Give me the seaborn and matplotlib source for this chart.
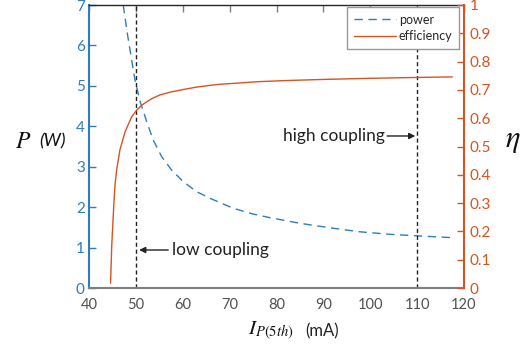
"""
Power / efficiency vs. pump current (dual axis)
"""
import matplotlib
matplotlib.use("Agg")
import matplotlib.pyplot as plt
from matplotlib.lines import Line2D
import seaborn as sns

# --- data ---
I_POWER = [47.3, 48.2, 49.1, 49.8, 50.9, 52.3, 53.7, 55.5, 57.6, 60.1, 63.0,
           65.8, 70.8, 75.0, 78.6, 85.0, 92.0, 97.8, 104.0, 110.0, 117.7]
POWER = [7.0, 6.28, 5.64, 5.15, 4.61, 4.12, 3.66, 3.25, 2.92, 2.63, 2.38,
         2.22, 1.97, 1.83, 1.74, 1.6, 1.48, 1.39, 1.33, 1.29, 1.245]

I_EFF = [44.6, 44.84, 45.05, 45.2, 45.35, 45.55, 45.9, 46.6, 47.7, 49.1, 50.2,
         51.2, 52.3, 53.5, 55.1, 57.3, 60.0, 63.0, 65.8, 68.0, 70.8, 76.0, 82.0,
         90.0, 100.0, 110.0, 117.5]
EFF = [0.017, 0.146, 0.215, 0.264, 0.31, 0.365, 0.417, 0.488, 0.552, 0.605, 0.629,
       0.645, 0.658, 0.670, 0.682, 0.692, 0.701, 0.710, 0.716, 0.720, 0.723, 0.729,
       0.733, 0.737, 0.741, 0.744, 0.746]

X_TICKS = [40, 50, 60, 70, 80, 90, 100, 110, 120]
P_TICKS = [0, 1, 2, 3, 4, 5, 6, 7]
ETA_TICKS = [0, 0.1, 0.2, 0.3, 0.4, 0.5, 0.6, 0.7, 0.8, 0.9, 1.0]
ETA_LABELS = ["0", "0.1", "0.2", "0.3", "0.4", "0.5", "0.6", "0.7", "0.8", "0.9", "1"]
COUPLING = [50, 110]

BLUE = "#2f7cc0"
ORANGE = "#d9531e"
GRAY = "#7f7f7f"

sns.set_style("white")
plt.rcParams["font.family"] = ["Lato", "DejaVu Sans"]
plt.rcParams["mathtext.fontset"] = "stix"

fig = plt.figure(figsize=(5.32, 3.54), dpi=100)
ax = fig.add_axes([89 / 532, 66 / 354, 375 / 532, 283 / 354])
ax2 = ax.twinx()

# --- lines ---
sns.lineplot(x=I_POWER, y=POWER, ax=ax, color=BLUE, linewidth=1.0,
             linestyle=(0, (6, 4)), sort=False, label=None)
sns.lineplot(x=I_EFF, y=EFF, ax=ax2, color=ORANGE, linewidth=1.0,
             sort=False, label=None)
for xv in COUPLING:
    ax.axvline(xv, color="#222222", linewidth=1.0, linestyle=(0, (3, 2)))

ax.set_xlim(40, 120)
ax.set_ylim(0, 7)
ax2.set_ylim(0, 1)

# --- ticks ---
ax.set_xticks(X_TICKS)
ax.set_xticklabels([str(v) for v in X_TICKS], fontsize=10.5, color="#505050")
ax.set_yticks(P_TICKS)
ax.set_yticklabels([str(v) for v in P_TICKS], fontsize=11, color=BLUE)
ax2.set_yticks(ETA_TICKS)
ax2.set_yticklabels(ETA_LABELS, fontsize=11, color=ORANGE)

ax.tick_params(axis="x", direction="in", length=5, width=1, color=GRAY, pad=7, top=True)
ax.tick_params(axis="y", direction="in", length=5, width=1, color=BLUE, pad=3)
ax2.tick_params(axis="y", direction="in", length=5, width=1, color=ORANGE, pad=4)

for a in (ax, ax2):
    for s in a.spines.values():
        s.set_visible(False)
ax.spines["left"].set_visible(True)
ax.spines["left"].set_color(BLUE)
ax.spines["left"].set_linewidth(1.5)
ax.spines["bottom"].set_visible(True)
ax.spines["bottom"].set_color(GRAY)
ax.spines["bottom"].set_linewidth(1.5)
ax.spines["top"].set_visible(True)
ax.spines["top"].set_color("#262626")
ax.spines["top"].set_linewidth(1.0)
ax2.spines["right"].set_visible(True)
ax2.spines["right"].set_color(ORANGE)
ax2.spines["right"].set_linewidth(1.5)
ax.set_xlabel("")
ax.set_ylabel("")
ax2.set_ylabel("")

# --- annotations ---
ax.annotate("", xy=(50.7, 0.94), xytext=(56.9, 0.94),
            arrowprops=dict(arrowstyle="-|>", color="#222222", lw=1, mutation_scale=9,
                            shrinkA=0, shrinkB=0))
ax.text(57.6, 0.94, "low coupling", ha="left", va="center", fontsize=12.5, color="#222222")
ax.annotate("", xy=(109.6, 3.76), xytext=(103.6, 3.76),
            arrowprops=dict(arrowstyle="-|>", color="#222222", lw=1, mutation_scale=9,
                            shrinkA=0, shrinkB=0))
ax.text(103.1, 3.76, "high coupling", ha="right", va="center", fontsize=12.5, color="#222222")

# --- legend ---
handles = [Line2D([], [], color=BLUE, lw=1.0, linestyle=(0, (6, 4))),
           Line2D([], [], color=ORANGE, lw=1.0)]
leg = ax2.legend(handles, ["power", "efficiency"], loc="upper right",
                 bbox_to_anchor=(0.9875, 0.994), borderaxespad=0, fontsize=9,
                 handlelength=3.4, handletextpad=0.2, labelspacing=0.35,
                 borderpad=0.55, fancybox=False, framealpha=1)
leg.get_frame().set_edgecolor("#999999")
leg.get_frame().set_linewidth(1.0)

# --- axis labels ---
fig.text(23 / 532, 1 - 141 / 354, "$P$", ha="center", va="center", fontsize=17, color="#111111")
fig.text(52 / 532, 1 - 141 / 354, "(W)", ha="center", va="center", fontsize=13,
         style="italic", color="#111111")
fig.text(513 / 532, 1 - 141 / 354, r"$\eta$", ha="center", va="center", fontsize=22, color="#111111")
fig.text(248 / 532, 1 - 331 / 354, "$I_{P(5th)}$", ha="left", va="center", fontsize=15, color="#111111")
fig.text(322 / 532, 1 - 331 / 354, "(mA)", ha="center", va="center", fontsize=12, color="#222222")

fig.savefig("out.png", dpi=100)
